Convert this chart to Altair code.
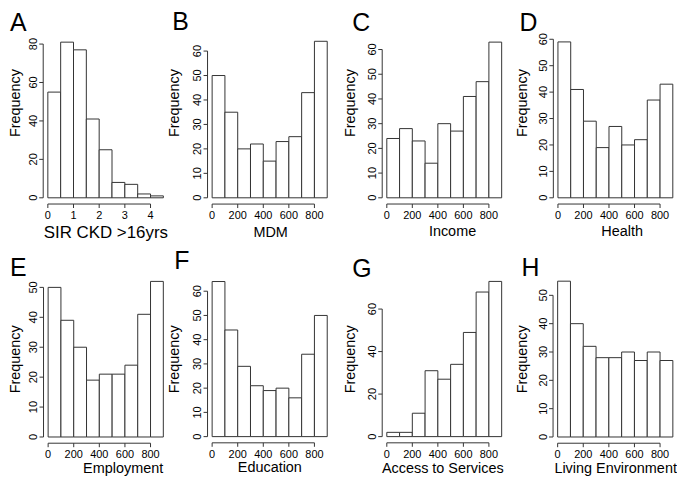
import altair as alt
import pandas as pd

# ---------------- data ----------------
letters = ["A", "B", "C", "D", "E", "F", "G", "H"]
x_titles = ["SIR CKD >16yrs", "MDM", "Income", "Health",
            "Employment", "Education", "Access to Services", "Living Environment"]
bin_widths = [0.5, 100, 100, 100, 100, 100, 100, 100]

counts_A = [55, 81, 77, 41, 25, 8, 7, 2, 1]
counts_B = [50, 35, 20, 22, 15, 23, 25, 43, 64]
counts_C = [24, 28, 23, 14, 30, 27, 41, 47, 63]
counts_D = [59, 41, 29, 19, 27, 20, 22, 37, 43]
counts_E = [50, 39, 30, 19, 21, 21, 24, 41, 52]
counts_F = [64, 44, 29, 21, 19, 20, 16, 34, 50]
counts_G = [2, 2, 11, 31, 27, 34, 49, 68, 73]
counts_H = [55, 40, 32, 28, 28, 30, 27, 30, 27]
all_counts = [counts_A, counts_B, counts_C, counts_D,
              counts_E, counts_F, counts_G, counts_H]

x_ticks_A = [0, 1, 2, 3, 4]
x_ticks_rank = [0, 200, 400, 600, 800]
x_ticks = [x_ticks_A] + [x_ticks_rank] * 7

y_ticks_80 = [0, 20, 40, 60, 80]
y_ticks_60 = [0, 10, 20, 30, 40, 50, 60]
y_ticks_50 = [0, 10, 20, 30, 40, 50]
y_ticks_g = [0, 20, 40, 60]
y_ticks = [y_ticks_80, y_ticks_60, y_ticks_60, y_ticks_60,
           y_ticks_50, y_ticks_60, y_ticks_g, y_ticks_50]

# ---------------- layout (reference pixel geometry) ----------------
W, H = 669, 466
SX, SY = 669 / 680, 466 / 483


def X(v):
    return (v - 2) * SX


def Y(v):
    return (v - 5) * SY


# pixel of x=0, pixel of last x tick, pixel of y=0, pixel of top y tick
x0_px = [40.7, 208.7, 387.3, 562.3, 41.0, 208.7, 387.3, 562.0]
xl_px = [145.7, 313.3, 491.7, 666.7, 145.7, 313.3, 491.7, 666.7]
y0_px = [197.3, 197.3, 197.3, 197.3, 446.7, 446.3, 446.3, 446.7]
yt_px = [37.0, 44.3, 42.7, 32.0, 290.7, 294.7, 313.3, 299.0]

ytitle_x = [12.5, 175.0, 354.5, 530.8, 12.5, 175.0, 354.5, 530.8]
ytitle_cy = [98.5] * 4 + [365.7] * 4
xtitle_cx = [100.0, 268.5, 454.5, 628.0, 117.7, 267.7, 444.5, 621.3]
xtitle_base = [239.3, 238.0, 237.5, 237.5, 484.5, 483.0, 484.5, 484.5]
xtitle_size = [17, 14.5, 14.5, 14.5, 14.5, 14.5, 14.5, 14.5]
letter_x = [2, 168, 352, 523, 2, 170, 352, 525]
letter_y = [23.3, 22.0, 23.5, 23.0, 279.0, 272.0, 280.0, 279.0]

FONT = "Liberation Sans"
INK = "#333333"
TICK = 4

panels = []
for i in range(8):
    bw = bin_widths[i]
    counts = all_counts[i]
    n = len(counts)
    df = pd.DataFrame({
        "start": [k * bw for k in range(n)],
        "end": [(k + 1) * bw for k in range(n)],
        "count": counts,
    })
    xlast = x_ticks[i][-1]
    ytop = y_ticks[i][-1]
    kx = (xl_px[i] - x0_px[i]) / xlast
    ky = (y0_px[i] - yt_px[i]) / ytop
    ax_x = X(x0_px[i] - 0.04 * (n * bw) * kx)      # y-axis line position
    ax_y = Y(y0_px[i] + 0.04 * max(counts) * ky)    # x-axis line position

    xs = alt.Scale(domain=[0, xlast], range=[X(x0_px[i]), X(xl_px[i])],
                   nice=False, zero=False)
    ys = alt.Scale(domain=[0, ytop], range=[Y(y0_px[i]), Y(yt_px[i])],
                   nice=False, zero=False)

    bars = alt.Chart(df).mark_rect(fill="white", stroke=INK, strokeWidth=1).encode(
        x=alt.X("start:Q", scale=xs, axis=None),
        x2="end:Q",
        y=alt.Y("count:Q", scale=ys, axis=None),
        y2=alt.datum(0),
    )

    # axis lines (R style: from first to last tick)
    xline = alt.Chart(pd.DataFrame({"a": [0], "b": [xlast]})).mark_rule(
        color=INK, strokeWidth=1).encode(
        x=alt.X("a:Q", scale=xs, axis=None), x2="b:Q", y=alt.value(ax_y))
    yline = alt.Chart(pd.DataFrame({"a": [0], "b": [ytop]})).mark_rule(
        color=INK, strokeWidth=1).encode(
        y=alt.Y("a:Q", scale=ys, axis=None), y2="b:Q", x=alt.value(ax_x))

    xt_df = pd.DataFrame({"v": x_ticks[i]})
    yt_df = pd.DataFrame({"v": y_ticks[i]})

    xtick = alt.Chart(xt_df).mark_rule(color=INK, strokeWidth=1).encode(
        x=alt.X("v:Q", scale=xs, axis=None),
        y=alt.value(ax_y), y2=alt.value(ax_y + TICK))
    xlab = alt.Chart(xt_df).mark_text(
        fontSize=11, align="center", baseline="top", color="black").encode(
        x=alt.X("v:Q", scale=xs, axis=None),
        y=alt.value(ax_y + TICK + 2),
        text=alt.Text("v:Q", format="d"))

    ytick = alt.Chart(yt_df).mark_rule(color=INK, strokeWidth=1).encode(
        y=alt.Y("v:Q", scale=ys, axis=None),
        x=alt.value(ax_x), x2=alt.value(ax_x - TICK))
    ylab = alt.Chart(yt_df).mark_text(
        fontSize=11, align="center", baseline="alphabetic", angle=270,
        color="black").encode(
        y=alt.Y("v:Q", scale=ys, axis=None),
        x=alt.value(ax_x - TICK - 2.5),
        text=alt.Text("v:Q", format="d"))

    titles = pd.DataFrame({"t": [x_titles[i]], "f": ["Frequency"], "l": [letters[i]]})
    xtitle = alt.Chart(titles).mark_text(
        fontSize=xtitle_size[i], align="center", baseline="alphabetic",
        color="black").encode(
        text="t:N", x=alt.value(X(xtitle_cx[i])), y=alt.value(Y(xtitle_base[i])))
    ytitle = alt.Chart(titles).mark_text(
        fontSize=14.5, align="center", baseline="alphabetic", angle=270,
        color="black").encode(
        text="f:N", x=alt.value(X(ytitle_x[i])), y=alt.value(Y(ytitle_cy[i])))
    letter = alt.Chart(titles).mark_text(
        fontSize=25, align="left", baseline="alphabetic", color="black").encode(
        text="l:N", x=alt.value(X(letter_x[i])), y=alt.value(Y(letter_y[i])))

    panels.append(alt.layer(bars, xline, yline, xtick, xlab, ytick, ylab,
                            xtitle, ytitle, letter))

chart = (
    alt.layer(*panels)
    .resolve_scale(x="independent", y="independent")
    .properties(width=W, height=H, padding=0, background="white")
    .configure(font=FONT)
    .configure_view(stroke=None)
)

chart.save("out.html", embed_options={"renderer": "svg", "actions": False})
